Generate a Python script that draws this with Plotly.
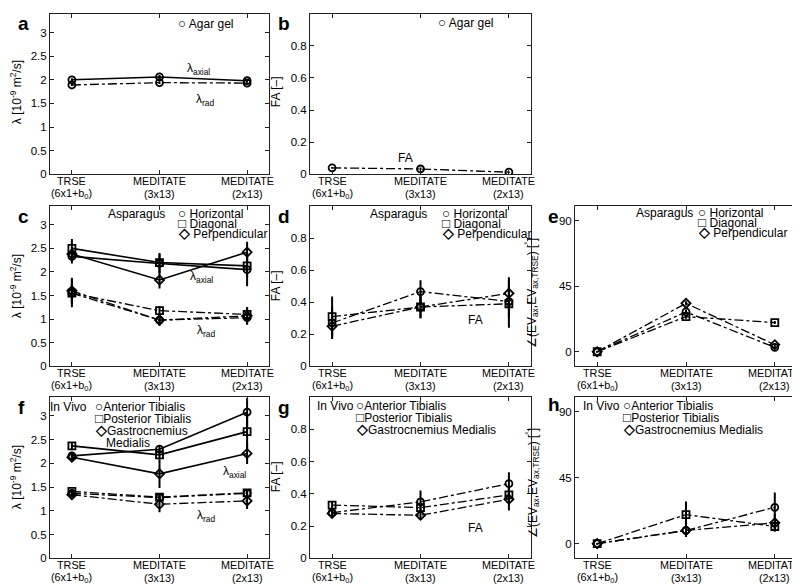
import plotly.graph_objects as go

W, H = 800, 588

# ---------------- data ----------------
x_pos = [1, 2, 3]
x_labels_top = ["TRSE", "MEDITATE", "MEDITATE"]
x_labels_bottom = ["(6x1+b<sub>0</sub>)", "(3x13)", "(2x13)"]

# Panel a/b : agar gel
agar_axial = [2.00, 2.06, 1.98]
agar_axial_err = [0.03, 0.04, 0.03]
agar_rad = [1.89, 1.94, 1.93]
agar_rad_err = [0.02, 0.03, 0.02]
agar_fa = [0.040, 0.033, 0.013]
agar_fa_err = [0.006, 0.010, 0.005]

# Panels c/d/e : asparagus (Horizontal, Diagonal, Perpendicular)
asp_names = ["Horizontal", "Diagonal", "Perpendicular"]
asp_axial = [[2.33, 2.18, 2.05], [2.50, 2.20, 2.13], [2.38, 1.83, 2.42]]
asp_axial_err = [[0.15, 0.20, 0.35], [0.20, 0.20, 0.25], [0.15, 0.18, 0.22]]
asp_rad = [[1.55, 0.98, 1.03], [1.55, 1.18, 1.10], [1.60, 0.98, 1.07]]
asp_rad_err = [[0.30, 0.10, 0.15], [0.20, 0.10, 0.15], [0.28, 0.12, 0.18]]
asp_fa = [[0.27, 0.466, 0.404], [0.31, 0.37, 0.39], [0.25, 0.37, 0.455]]
asp_fa_err = [[0.10, 0.07, 0.10], [0.125, 0.07, 0.15], [0.07, 0.07, 0.10]]
asp_ang = [[0, 27.3, 3.0], [0, 24.1, 20.0], [0, 33.2, 4.8]]
asp_ang_err = [[0.5, 1.5, 1.0], [0.5, 1.5, 1.0], [0.5, 1.5, 1.0]]

# Panels f/g/h : in vivo (Anterior Tibialis, Posterior Tibialis, Gastrocnemius Medialis)
viv_names = ["Anterior Tibialis", "Posterior Tibialis", "Gastrocnemius Medialis"]
viv_axial = [[2.16, 2.30, 3.08], [2.37, 2.18, 2.67], [2.13, 1.78, 2.21]]
viv_axial_err = [[0.08, 0.08, 0.30], [0.08, 0.10, 0.40], [0.06, 0.30, 0.22]]
viv_rad = [[1.37, 1.28, 1.37], [1.41, 1.29, 1.38], [1.34, 1.14, 1.21]]
viv_rad_err = [[0.05, 0.08, 0.08], [0.05, 0.08, 0.08], [0.04, 0.17, 0.17]]
viv_fa = [[0.283, 0.35, 0.463], [0.33, 0.314, 0.393], [0.278, 0.267, 0.366]]
viv_fa_err = [[0.02, 0.07, 0.07], [0.02, 0.03, 0.05], [0.02, 0.03, 0.07]]
viv_ang = [[0, 9.0, 24.8], [0, 19.8, 11.7], [0, 9.0, 14.2]]
viv_ang_err = [[0.5, 3.0, 10.0], [0.5, 9.0, 3.0], [0.5, 4.5, 6.0]]

symbols = ["circle-open", "square-open", "diamond-open"]

# ---------------- layout geometry ----------------
cols = [(42, 261), (302, 523), (567, 789)]
rows = [(5.7, 168), (200, 362), (393, 556)]

def dom_x(c):
    return [cols[c][0] / W, cols[c][1] / W]

def dom_y(r):
    return [1 - rows[r][1] / H, 1 - rows[r][0] / H]

lam_ticks = [0, 0.5, 1, 1.5, 2, 2.5, 3]
fa_ticks = [0, 0.2, 0.4, 0.6, 0.8]
ang_ticks = [0, 45, 90]

# panel: (col, row, yrange, yticks)
panels = [
    (0, 0, [0, 3.4], lam_ticks),   # a
    (1, 0, [0, 1.0], fa_ticks),    # b
    (0, 1, [0, 3.4], lam_ticks),   # c
    (1, 1, [0, 1.0], fa_ticks),    # d
    (2, 1, [-10, 100], ang_ticks), # e
    (0, 2, [0, 3.4], lam_ticks),   # f
    (1, 2, [0, 1.0], fa_ticks),    # g
    (2, 2, [-10, 100], ang_ticks), # h
]

fig = go.Figure()

def add(p, y, err, dash, symbol, lw):
    suffix = "" if p == 0 else str(p + 1)
    fig.add_trace(go.Scatter(
        x=x_pos, y=y, mode="lines+markers",
        xaxis="x" + suffix, yaxis="y" + suffix,
        line=dict(color="black", width=lw, dash=dash),
        marker=dict(symbol=symbol, size=7, color="black", line=dict(width=1.8, color="black")),
        error_y=dict(type="data", array=err, visible=True, color="black", thickness=2, width=0),
        showlegend=False, hoverinfo="skip",
    ))

# a
add(0, agar_axial, agar_axial_err, "solid", "circle-open", 1.6)
add(0, agar_rad, agar_rad_err, "dashdot", "circle-open", 1.3)
# b
add(1, agar_fa, agar_fa_err, "dashdot", "circle-open", 1.3)
# c, d, e
for i in range(3):
    add(2, asp_axial[i], asp_axial_err[i], "solid", symbols[i], 1.6)
    add(2, asp_rad[i], asp_rad_err[i], "dashdot", symbols[i], 1.3)
    add(3, asp_fa[i], asp_fa_err[i], "dashdot", symbols[i], 1.3)
    add(4, asp_ang[i], asp_ang_err[i], "dashdot", symbols[i], 1.3)
# f, g, h
for i in range(3):
    add(5, viv_axial[i], viv_axial_err[i], "solid", symbols[i], 1.6)
    add(5, viv_rad[i], viv_rad_err[i], "dashdot", symbols[i], 1.3)
    add(6, viv_fa[i], viv_fa_err[i], "dashdot", symbols[i], 1.3)
    add(7, viv_ang[i], viv_ang_err[i], "dashdot", symbols[i], 1.3)

axis_common = dict(showline=True, linecolor="#222", linewidth=1, mirror="ticks",
                   ticks="inside", ticklen=4, tickcolor="#222", showgrid=False,
                   zeroline=False, tickfont=dict(size=11.5, color="black"))

FONT = "Liberation Sans, Arial, sans-serif"
layout = {}
anns = []
for p, (c, r, yr, yt) in enumerate(panels):
    suffix = "" if p == 0 else str(p + 1)
    layout["xaxis" + suffix] = dict(axis_common, domain=dom_x(c), range=[0.75, 3.25],
                                    tickvals=x_pos, showticklabels=False,
                                    anchor="y" + suffix, fixedrange=True)
    layout["yaxis" + suffix] = dict(axis_common, domain=dom_y(r), range=yr,
                                    tickvals=yt, ticktext=[str(v) for v in yt],
                                    anchor="x" + suffix, fixedrange=True)
    # x tick labels as two text lines under each tick
    base = rows[r][1]
    for xv, t1, t2 in zip(x_pos, x_labels_top, x_labels_bottom):
        anns.append(dict(x=xv, xref="x" + suffix, y=1 - (base + 7) / H, yref="paper",
                         text=t1, showarrow=False, xanchor="center", yanchor="middle",
                         font=dict(size=10.8, color="black", family=FONT)))
        anns.append(dict(x=xv, xref="x" + suffix, y=1 - (base + 20) / H, yref="paper",
                         text=t2, showarrow=False, xanchor="center", yanchor="middle",
                         font=dict(size=10.8, color="black", family=FONT)))

def txt(x, y, s, size=12, xanchor="left", yanchor="middle", bold=False, angle=0):
    anns.append(dict(x=x / W, y=1 - y / H, xref="paper", yref="paper", text=("<b>%s</b>" % s) if bold else s,
                     showarrow=False, xanchor=xanchor, yanchor=yanchor, textangle=angle,
                     font=dict(size=size, color="black", family=FONT)))

# panel letters
for (lx, ly, l) in [(8, 16, "a"), (268, 16, "b"), (8, 211, "c"), (268, 211, "d"), (538, 211, "e"),
                    (8, 404, "f"), (268, 404, "g"), (538, 401, "h")]:
    txt(lx, ly, l, size=19, bold=True)

# y axis titles
lam_title = "λ [10<sup>-9</sup> m<sup>2</sup>/s]"
fa_title = "FA [–]"
ang_title = "∠(EV<sub>ax</sub>,EV<sub>ax,TRSE</sub>) [<sup>°</sup>]"
txt(8, 85, lam_title, size=12, xanchor="center", angle=-90)
txt(268, 85, fa_title, size=12, xanchor="center", angle=-90)
txt(8, 281, lam_title, size=12, xanchor="center", angle=-90)
txt(268, 281, fa_title, size=12, xanchor="center", angle=-90)
txt(524, 288, ang_title, size=12, xanchor="center", angle=-90)
txt(525, 480, ang_title, size=12, xanchor="center", angle=-90)
txt(8, 474, lam_title, size=12, xanchor="center", angle=-90)
txt(268, 474, fa_title, size=12, xanchor="center", angle=-90)

# legends
def g(ch):
    return "<span style='font-size:13.5px'><b>%s</b></span>" % ch

glyph = [g("○"), g("□"), g("◇")]
txt(168, 16, glyph[0] + " Agar gel")
txt(428, 15, glyph[0] + " Agar gel")
for (ax0, ay0, mx) in [(98, 208, 168), (360, 208, 432), (626, 207, 688)]:
    txt(ax0, ay0, "Asparagus")
    for i in range(3):
        txt(mx, ay0 + 10 * i, glyph[i] + " " + asp_names[i])
# in vivo legends
txt(40, 403, "In Vivo")
txt(85, 403, glyph[0] + "Anterior Tibialis")
txt(85, 415, glyph[1] + "Posterior Tibialis")
txt(85, 427, glyph[2] + "Gastrocnemius")
txt(120, 439, "Medialis", xanchor="center")
for (ax0, mx) in [(307, 346), (573, 613)]:
    txt(ax0, 402, "In Vivo")
    for i in range(3):
        txt(mx, 402 + 12 * i, glyph[i] + viv_names[i])

# curve labels
txt(177, 62, "λ<sub>axial</sub>")
txt(186, 93, "λ<sub>rad</sub>")
txt(388, 152, "FA")
txt(180, 272, "λ<sub>axial</sub>")
txt(187, 326, "λ<sub>rad</sub>")
txt(458, 315, "FA")
txt(213, 469, "λ<sub>axial</sub>")
txt(187, 513, "λ<sub>rad</sub>")
txt(458, 525, "FA")

fig.update_layout(**layout)
fig.update_layout(width=W, height=H, margin=dict(l=0, r=0, t=0, b=0),
                  plot_bgcolor="white", paper_bgcolor="white",
                  font=dict(family=FONT, size=11.5, color="black"),
                  annotations=anns)

fig.write_html("out.html")
